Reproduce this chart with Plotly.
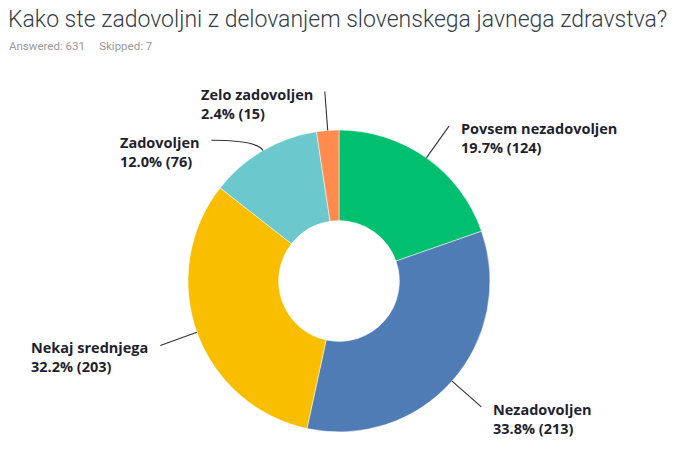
import math
import plotly.graph_objects as go

# ---- data ----
categories = ["Povsem nezadovoljen", "Nezadovoljen", "Nekaj srednjega", "Zadovoljen", "Zelo zadovoljen"]
counts = [124, 213, 203, 76, 15]
percents = [19.7, 33.8, 32.2, 12.0, 2.4]
colors = ["#00BF6F", "#507CB6", "#F9BE00", "#6BC8CD", "#FF8B4F"]
title_text = "Kako ste zadovoljni z delovanjem slovenskega javnega zdravstva?"
answered = 631
skipped = 7

# ---- layout constants (pixels) ----
W, H = 675, 456
CX, CY, R = 339, 281, 151
HOLE = 0.4
RL = 190          # radius at which leader lines end
GAP = 10          # gap between leader end and text
angle_nudge = {"Zadovoljen": -12.0}

fig = go.Figure()
fig.add_trace(go.Pie(
    labels=categories, values=counts, sort=False, direction="clockwise", rotation=0,
    hole=HOLE, marker=dict(colors=colors, line=dict(color="white", width=0.5)),
    textinfo="none", hoverinfo="label+percent+value", showlegend=False,
    domain=dict(x=[(CX - R) / W, (CX + R) / W], y=[1 - (CY + R) / H, 1 - (CY - R) / H]),
))

total = sum(counts)
shapes, annotations = [], []
cum = 0
for cat, cnt, pct in zip(categories, counts, percents):
    mid = (cum + cnt / 2) / total * 360
    cum += cnt
    th = math.radians(mid)
    sx, sy = CX + R * math.sin(th), CY - R * math.cos(th)
    th2 = math.radians(mid + angle_nudge.get(cat, 0))
    ex, ey = CX + RL * math.sin(th2), CY - RL * math.cos(th2)
    # control point: radial direction from start, intersected with label's y
    dy = math.cos(th)
    t = (sy - ey) / dy if abs(dy) > 1e-3 else 0
    cx_, cy_ = sx + t * math.sin(th), ey
    shapes.append(dict(type="path", xref="x", yref="y",
                       path=f"M {sx:.1f},{sy:.1f} Q {cx_:.1f},{cy_:.1f} {ex:.1f},{ey:.1f}",
                       line=dict(color="#333333", width=1.1)))
    right = math.sin(th2) > 0
    annotations.append(dict(
        xref="x", yref="y", x=ex + GAP if right else ex - GAP, y=ey - 9,
        xanchor="left" if right else "right", yanchor="top", align="left",
        text=f"{cat}<br>{pct:.1f}% ({cnt})", showarrow=False,
        font=dict(family="Open Sans", size=14.5, color="#1f1f2e", weight=700),
    ))

annotations.append(dict(xref="x", yref="y", x=6, y=19, xanchor="left", yanchor="middle",
                        text=title_text, showarrow=False,
                        font=dict(family="Roboto", size=23, color="#333e48", weight=300)))
annotations.append(dict(xref="x", yref="y", x=7, y=46, xanchor="left", yanchor="middle",
                        text=f"Answered: {answered}&nbsp;&nbsp;&nbsp;&nbsp;&nbsp;Skipped: {skipped}",
                        showarrow=False,
                        font=dict(family="Roboto", size=11.5, color="#9a9a9a")))

fig.update_layout(
    width=W, height=H, margin=dict(l=0, r=0, t=0, b=0),
    paper_bgcolor="white", plot_bgcolor="rgba(0,0,0,0)",
    xaxis=dict(range=[0, W], visible=False, fixedrange=True, domain=[0, 1]),
    yaxis=dict(range=[H, 0], visible=False, fixedrange=True, domain=[0, 1]),
    shapes=shapes, annotations=annotations,
)
fig.write_html("out.html")
